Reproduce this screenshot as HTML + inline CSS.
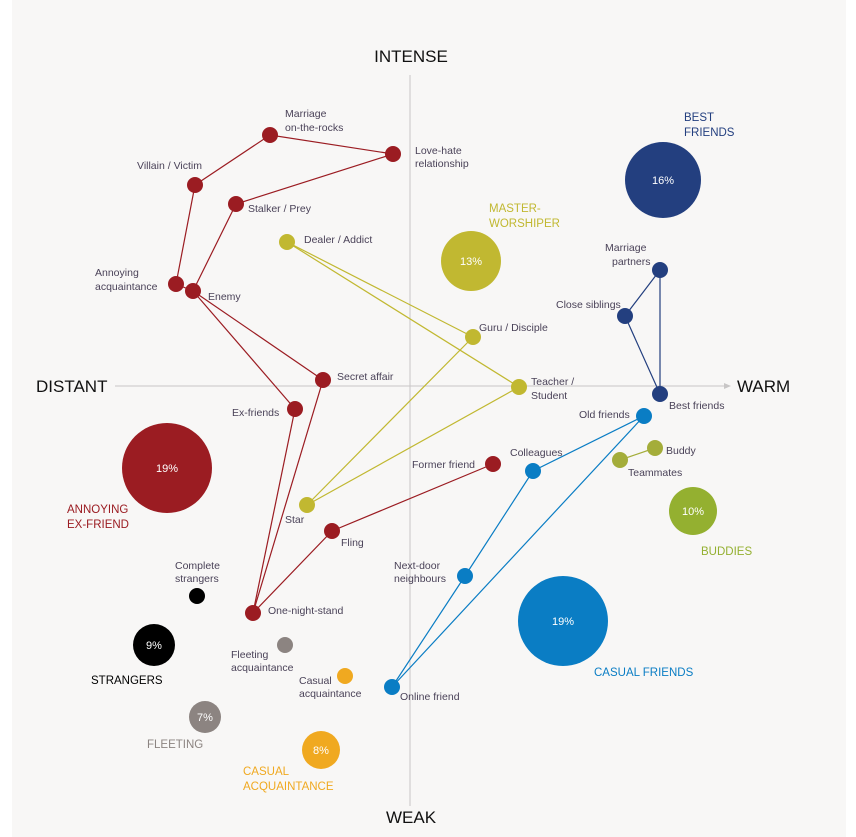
<!DOCTYPE html>
<html><head><meta charset="utf-8"><style>
html,body{margin:0;padding:0;background:#fff;}
svg{display:block;font-family:"Liberation Sans",sans-serif;}
.l{font-size:10.5px;fill:#4a4258;}
.p{font-size:11px;fill:#fff;text-anchor:middle;}
.ax{font-size:17px;fill:#111;}
.cat{font-size:11.5px;}
</style></head><body>
<svg width="856" height="837" viewBox="0 0 856 837">
<rect x="12" y="0" width="834" height="837" fill="#f8f7f6"/>
<!-- axes -->
<g stroke="#c8c6c6" stroke-width="1" fill="none">
<line x1="115" y1="386" x2="726" y2="386"/>
<line x1="410" y1="75" x2="410" y2="806"/>
</g>
<polygon points="731,386 724,383 724,389" fill="#c8c6c6"/>
<text class="ax" x="411" y="62" text-anchor="middle">INTENSE</text>
<text class="ax" x="411" y="823" text-anchor="middle">WEAK</text>
<text class="ax" x="36" y="392">DISTANT</text>
<text class="ax" x="737" y="392">WARM</text>

<!-- red -->
<g stroke="#9b1c22" stroke-width="1.2" fill="none">
<polyline points="393,154 270,135 195,185 176,284 193,291 236,204 393,154"/>
<line x1="193" y1="291" x2="323" y2="380"/>
<line x1="193" y1="291" x2="295" y2="409"/>
<line x1="323" y1="380" x2="253" y2="613"/>
<line x1="295" y1="409" x2="253" y2="613"/>
<polyline points="253,613 332,531 493,464"/>
</g>
<g fill="#9b1c22">
<circle cx="270" cy="135" r="8"/><circle cx="393" cy="154" r="8"/><circle cx="195" cy="185" r="8"/>
<circle cx="236" cy="204" r="8"/><circle cx="176" cy="284" r="8"/><circle cx="193" cy="291" r="8"/>
<circle cx="323" cy="380" r="8"/><circle cx="295" cy="409" r="8"/><circle cx="493" cy="464" r="8"/>
<circle cx="332" cy="531" r="8"/><circle cx="253" cy="613" r="8"/>
</g>
<!-- yellow -->
<g stroke="#c1b831" stroke-width="1.2" fill="none">
<line x1="287" y1="242" x2="473" y2="337"/><line x1="287" y1="242" x2="519" y2="387"/>
<line x1="473" y1="337" x2="307" y2="505"/><line x1="519" y1="387" x2="307" y2="505"/>
</g>
<g fill="#c1b831">
<circle cx="287" cy="242" r="8"/><circle cx="473" cy="337" r="8"/><circle cx="519" cy="387" r="8"/><circle cx="307" cy="505" r="8"/>
</g>
<!-- navy -->
<g stroke="#233f7f" stroke-width="1.2" fill="none">
<polygon points="660,270 625,316 660,394"/>
</g>
<g fill="#233f7f"><circle cx="660" cy="270" r="8"/><circle cx="625" cy="316" r="8"/><circle cx="660" cy="394" r="8"/></g>
<!-- blue -->
<g stroke="#0a7dc4" stroke-width="1.2" fill="none">
<polygon points="644,416 533,471 465,576 392,687"/>
</g>
<g fill="#0a7dc4"><circle cx="644" cy="416" r="8"/><circle cx="533" cy="471" r="8"/><circle cx="465" cy="576" r="8"/><circle cx="392" cy="687" r="8"/></g>
<!-- green -->
<line x1="655" y1="448" x2="620" y2="460" stroke="#a4ad3a" stroke-width="1.2"/>
<circle cx="655" cy="448" r="8" fill="#a4ad3a"/><circle cx="620" cy="460" r="8" fill="#a4ad3a"/>
<!-- small -->
<circle cx="197" cy="596" r="8" fill="#000"/>
<circle cx="285" cy="645" r="8" fill="#8c8481"/>
<circle cx="345" cy="676" r="8" fill="#f0a920"/>

<!-- big circles -->
<circle cx="663" cy="180" r="38" fill="#233f7f"/><text class="p" x="663" y="184">16%</text>
<circle cx="471" cy="261" r="30" fill="#c1b831"/><text class="p" x="471" y="265">13%</text>
<circle cx="167" cy="468" r="45" fill="#9b1c22"/><text class="p" x="167" y="472">19%</text>
<circle cx="693" cy="511" r="24" fill="#94b030"/><text class="p" x="693" y="515">10%</text>
<circle cx="563" cy="621" r="45" fill="#0a7dc4"/><text class="p" x="563" y="625">19%</text>
<circle cx="154" cy="645" r="21" fill="#000"/><text class="p" x="154" y="649">9%</text>
<circle cx="205" cy="717" r="16" fill="#8c8481"/><text class="p" x="205" y="721">7%</text>
<circle cx="321" cy="750" r="19" fill="#f0a920"/><text class="p" x="321" y="754">8%</text>

<!-- category labels -->
<text class="cat" fill="#233f7f" x="684" y="121">BEST</text><text class="cat" fill="#233f7f" x="684" y="136">FRIENDS</text>
<text class="cat" fill="#c1b831" x="489" y="212">MASTER-</text><text class="cat" fill="#c1b831" x="489" y="227">WORSHIPER</text>
<text class="cat" fill="#9b1c22" x="67" y="513">ANNOYING</text><text class="cat" fill="#9b1c22" x="67" y="528">EX-FRIEND</text>
<text class="cat" fill="#94b030" x="701" y="555">BUDDIES</text>
<text class="cat" fill="#0a7dc4" x="594" y="676">CASUAL FRIENDS</text>
<text class="cat" fill="#000" x="91" y="684">STRANGERS</text>
<text class="cat" fill="#8c8481" x="147" y="748">FLEETING</text>
<text class="cat" fill="#f0a920" x="243" y="775">CASUAL</text><text class="cat" fill="#f0a920" x="243" y="790">ACQUAINTANCE</text>

<!-- node labels -->
<text class="l" x="285" y="117">Marriage</text><text class="l" x="285" y="131">on-the-rocks</text>
<text class="l" x="415" y="154">Love-hate</text><text class="l" x="415" y="167">relationship</text>
<text class="l" x="137" y="169">Villain / Victim</text>
<text class="l" x="248" y="212">Stalker / Prey</text>
<text class="l" x="304" y="243">Dealer / Addict</text>
<text class="l" x="95" y="276">Annoying</text><text class="l" x="95" y="290">acquaintance</text>
<text class="l" x="208" y="300">Enemy</text>
<text class="l" x="337" y="380">Secret affair</text>
<text class="l" x="232" y="416">Ex-friends</text>
<text class="l" x="412" y="468">Former friend</text>
<text class="l" x="341" y="546">Fling</text>
<text class="l" x="268" y="614">One-night-stand</text>
<text class="l" x="285" y="523">Star</text>
<text class="l" x="479" y="331">Guru / Disciple</text>
<text class="l" x="531" y="385">Teacher /</text><text class="l" x="531" y="399">Student</text>
<text class="l" x="605" y="251">Marriage</text><text class="l" x="612" y="265">partners</text>
<text class="l" x="556" y="308">Close siblings</text>
<text class="l" x="669" y="409">Best friends</text>
<text class="l" x="579" y="418">Old friends</text>
<text class="l" x="666" y="454">Buddy</text>
<text class="l" x="628" y="476">Teammates</text>
<text class="l" x="510" y="456">Colleagues</text>
<text class="l" x="394" y="569">Next-door</text><text class="l" x="394" y="582">neighbours</text>
<text class="l" x="400" y="700">Online friend</text>
<text class="l" x="175" y="569">Complete</text><text class="l" x="175" y="582">strangers</text>
<text class="l" x="231" y="658">Fleeting</text><text class="l" x="231" y="671">acquaintance</text>
<text class="l" x="299" y="684">Casual</text><text class="l" x="299" y="697">acquaintance</text>
</svg>
</body></html>
